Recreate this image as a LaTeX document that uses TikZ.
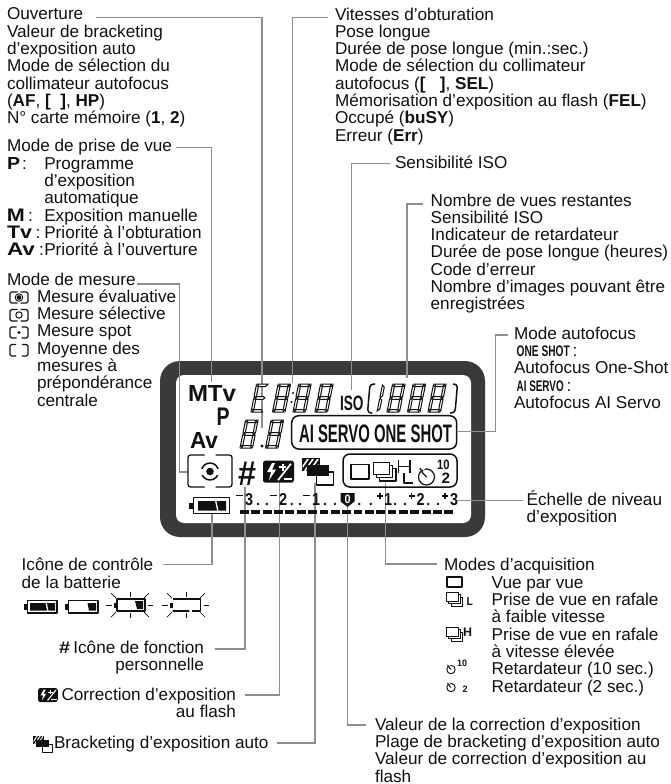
\documentclass[tikz,border=0pt]{standalone}
\usepackage{fontspec}
\usepackage{graphicx}
\setmainfont{Liberation Sans}
\definecolor{lcd}{HTML}{3A3A3A}
\definecolor{ink}{HTML}{111111}
\definecolor{lead}{HTML}{8E8E8E}
\newcommand\lblfont{\fontsize{17.15}{17.33}\selectfont}
\newcommand\fitb[3]{\resizebox{#1pt}{#2pt}{\textbf{#3}}}
\newcommand\firstln{\rule{0pt}{16pt}}
\tikzset{
  lbl/.style={anchor=north west,inner sep=0pt,outer sep=0pt,align=left,text=ink,font=\lblfont,yshift=3pt},
  lblr/.style={anchor=north east,inner sep=0pt,outer sep=0pt,align=right,text=ink,font=\lblfont,yshift=3pt},
  glyph/.style={anchor=south west,inner sep=0pt,outer sep=0pt,text=ink},
  colon/.style={anchor=base west,inner sep=0pt,outer sep=0pt,text=ink,font=\lblfont},
  leader/.style={draw=lead,line width=1.1pt},
  seg/.style={draw=ink,line width=1pt,fill=white},
  ic/.style={draw=ink,line join=round},
  pill/.style={draw=ink,line width=1.5pt,rounded corners=7pt}
}
% seven-segment pieces (local origin at the bottom left)
\newcommand\sega{\path[seg] (1,-28)--(11.5,-28)--(9.5,-25.5)--(3,-25.5)--cycle;}
\newcommand\segd{\path[seg] (1,0)--(11.5,0)--(9.5,-2.5)--(3,-2.5)--cycle;}
\newcommand\segg{\path[seg] (1.5,-14)--(3,-15.3)--(9.5,-15.3)--(11,-14)--(9.5,-12.7)--(3,-12.7)--cycle;}
\newcommand\segf{\path[seg] (0,-27)--(2.3,-24.8)--(2.3,-16)--(.7,-14.6)--(0,-15)--cycle;}
\newcommand\sege{\path[seg] (0,-1)--(2.3,-3.2)--(2.3,-12)--(.7,-13.4)--(0,-13)--cycle;}
\newcommand\segb{\path[seg] (12.5,-27)--(10.2,-24.8)--(10.2,-16)--(11.8,-14.6)--(12.5,-15)--cycle;}
\newcommand\segc{\path[seg] (12.5,-1)--(10.2,-3.2)--(10.2,-12)--(11.8,-13.4)--(12.5,-13)--cycle;}
\newcommand\digfull[2]{\begin{scope}[shift={(#1,#2)},xslant=.2]\sega\segb\segc\segd\sege\segf\segg\end{scope}}
\newcommand\digE[2]{\begin{scope}[shift={(#1,#2)},xslant=.2]\sega\segd\sege\segf\segg\end{scope}}
\newcommand\digone[2]{\begin{scope}[shift={(#1,#2)},xslant=.2]\sege\segf\end{scope}}
% metering frame
\newcommand\meterbox[7]{% x0 y0 x1 y1 gap lw radius
  \draw[ic,line width=#6pt,rounded corners=#7pt] ({(#1+#3)/2-#5},#2)--(#1,#2)--(#1,#4)--({(#1+#3)/2-#5},#4);
  \draw[ic,line width=#6pt,rounded corners=#7pt] ({(#1+#3)/2+#5},#2)--(#3,#2)--(#3,#4)--({(#1+#3)/2+#5},#4);}
% flash compensation icon, 31 x 22
\newcommand\flashicon[3]{\begin{scope}[shift={(#1,#2)},scale=#3]
  \fill[ink,rounded corners=2.5pt] (0,0) rectangle (31,22);
  \fill[white] (9,2.5)--(4,11.5)--(8,11.5)--(6,19.5)--(13,9)--(9,9)--(12,2.5)--cycle;
  \fill[white] (16,5.5) rectangle (23,7.5);\fill[white] (18.5,3) rectangle (20.5,10);
  \draw[white,line width=#3*1.7pt] (28,3)--(15,19.5);
  \draw[white,line width=#3*1.7pt] (21,18.5)--(29,18.5);
\end{scope}}
% bracketing icon, 32 x 27
\newcommand\brkicon[3]{\begin{scope}[shift={(#1,#2)},scale=#3]
  \draw[ic,line width=#3*1.3pt] (26,14)--(32,14)--(32,27)--(15,27)--(15,18);
  \fill[ink] (0,0) rectangle (18,13);
  \begin{scope}\clip (1,1) rectangle (17,12);
    \foreach \q in {-2,3,8,13,18,23}{\draw[white,line width=#3*1.6pt] (\q,13)--(\q+9,0);}
  \end{scope}
  \fill[ink] (5,7) rectangle (27,18);
\end{scope}}
% stacked frames, 23 x 19
\newcommand\stackicon[4]{\begin{scope}[shift={(#1,#2)},scale=#3]
  \draw[ic,line width=#4pt] (0,0) rectangle (16,12);
  \draw[ic,line width=#4pt] (3,12)--(3,15)--(19,15)--(19,3)--(16,3);
  \draw[ic,line width=#4pt] (6,15)--(6,18.5)--(22.5,18.5)--(22.5,6)--(19,6);
\end{scope}}
\newcommand\timericon[4]{% cx cy r lw
  \draw[ic,line width=#4pt] (#1,#2) circle[radius=#3pt];
  \draw[ic,line width=#4pt] (#1,#2)--({#1-.6*#3},{#2-.65*#3});
  \draw[white,line width={#4*1.4pt}] ({#1-.75*#3},{#2-.85*#3})--({#1-.2*#3},{#2-1.1*#3});
  \draw[ic,line width=#4pt] ({#1-.85*#3},{#2-1.1*#3})--({#1-.45*#3},{#2-.7*#3});}
\newcommand\rays[2]{\begin{scope}[shift={(#1,#2)}]
  \foreach \a/\b/\c/\d in {-24/0/-18/0,18/0/23/0,0/-13/0/-8,0/8/0/13,-19/-12/-14/-7,14/-7/19/-12,-19/12/-14/7,14/7/19/12}
    {\draw[ic,line width=.7pt] (\a,\b)--(\c,\d);}
\end{scope}}
\begin{document}
\begin{tikzpicture}[x=1pt,y=-1pt]
\useasboundingbox (0,0) rectangle (671,784);
% LCD frame
\fill[lcd,rounded corners=20pt] (160,361) rectangle (485,537);
\fill[white,rounded corners=8pt] (176,375) rectangle (471,523);

% leader end points
\coordinate (sOuv) at (96,17.5);   \coordinate (eOuv) at (262,428);
\coordinate (sPri) at (176,147.5); \coordinate (ePri) at (211.5,382);
\coordinate (sMes) at (137,284);   \coordinate (kMes) at (179.5,472); \coordinate (eMes) at (188,472);
\coordinate (sVit) at (328,17.3);  \coordinate (eVit) at (292.5,383);
\coordinate (sIso) at (390,163.3); \coordinate (eIso) at (351.5,390);
\coordinate (sNom) at (423,204);   \coordinate (eNom) at (407,378);
\coordinate (sAf)  at (508,335);   \coordinate (kAf)  at (495.5,431.7); \coordinate (eAf) at (458,431.7);
\coordinate (sEch) at (523,500.7); \coordinate (eEch) at (458,500.7);
\coordinate (sBat) at (163,564.3); \coordinate (eBat) at (212,514);
\coordinate (sNum) at (215,649);   \coordinate (eNum) at (245,487);
\coordinate (sFla) at (245,695);   \coordinate (eFla) at (279.5,483);
\coordinate (sBrk) at (277,743);   \coordinate (eBrk) at (315,483);
\coordinate (sVal) at (366,725);   \coordinate (eVal) at (347.5,507);
\coordinate (sAcq) at (437,564);   \coordinate (eAcq) at (385.5,483);
\draw[leader] (sOuv) -| (eOuv);
\draw[leader] (sPri) -| (ePri);
\draw[leader] (sMes) -| (kMes) -- (eMes);
\draw[leader] (sVit) -| (eVit);
\draw[leader] (sIso) -| (eIso);
\draw[leader] (sNom) -| (eNom);
\draw[leader] (sAf) -| (kAf) -- (eAf);
\draw[leader] (sEch) -- (eEch);
\draw[leader] (sBat) -| (eBat);
\draw[leader] (sNum) -| (eNum);
\draw[leader] (sFla) -| (eFla);
\draw[leader] (sBrk) -| (eBrk);
\draw[leader] (sVal) -| (eVal);
\draw[leader] (sAcq) -| (eAcq);

% left column
\node[lbl] (tOuv) at (7,7) {\firstln Ouverture\\Valeur de bracketing\\d’exposition auto\\Mode de sélection du\\collimateur autofocus\\(\textbf{AF}, \textbf{[\ \ ]}, \textbf{HP})\\N° carte mémoire (\textbf{1}, \textbf{2})};
\node[lbl] (tPri) at (7,138.7) {\firstln Mode de prise de vue\\\hspace*{37.3pt}Programme\\\hspace*{37.3pt}d’exposition\\\hspace*{37.3pt}automatique\\\hspace*{37.3pt}Exposition manuelle\\\hspace*{37.3pt}Priorité à l’obturation\\\hspace*{37.3pt}Priorité à l’ouverture};
\node[glyph] (gP) at (7,169) {\fitb{13}{12}{P}};
\node[colon] (cP) at (22,169) {:};
\node[glyph] (gM) at (7,221) {\fitb{18}{12.5}{M}};
\node[colon] (cM) at (28,221) {:};
\node[glyph] (gT) at (7,238.3) {\fitb{25}{12.5}{Tv}};
\node[colon] (cT) at (35.6,238.3) {:};
\node[glyph] (gA) at (7,255.7) {\fitb{28}{12.5}{Av}};
\node[colon] (cA) at (39,255.7) {:};
\node[lbl] (tMes) at (7,272) {\firstln Mode de mesure\\\hspace*{30pt}Mesure évaluative\\\hspace*{30pt}Mesure sélective\\\hspace*{30pt}Mesure spot\\\hspace*{30pt}Moyenne des\\\hspace*{30pt}mesures à\\\hspace*{30pt}prépondérance\\\hspace*{30pt}centrale};
\meterbox{10}{292}{28}{303}{1.5}{1.1}{1.5}
\fill[ink] (19,297.5) circle[radius=2.4pt];
\draw[ic,line width=.9pt] (19,297.5) circle[radius=3.8pt];
\meterbox{10}{309.5}{28}{321}{1.5}{1.1}{1.5}
\draw[ic,line width=1pt] (19,315) circle[radius=3.2pt];
\meterbox{10}{327}{28}{338}{2.5}{1.1}{1.5}
\fill[ink] (19,332.5) circle[radius=1.6pt];
\meterbox{10}{344.5}{28}{356}{3}{1.1}{1.5}

% upper right
\node[lbl] (tVit) at (335,7) {\firstln Vitesses d’obturation\\Pose longue\\Durée de pose longue (min.:sec.)\\Mode de sélection du collimateur\\autofocus (\textbf{[\ \ \ ]}, \textbf{SEL})\\Mémorisation d’exposition au flash (\textbf{FEL})\\Occupé (\textbf{buSY})\\Erreur (\textbf{Err})};
\node[lbl] (tIso) at (395,155.3) {\firstln Sensibilité ISO};
\node[lbl] (tNom) at (430.7,193) {\firstln Nombre de vues restantes\\Sensibilité ISO\\Indicateur de retardateur\\Durée de pose longue (heures)\\Code d’erreur\\Nombre d’images pouvant être\\enregistrées};
\node[lbl] (tAf) at (514,326.3) {\firstln Mode autofocus\\\hspace*{2.7pt}\fitb{53}{10.7}{ONE SHOT}\,:\\Autofocus One-Shot\\\hspace*{2.7pt}\fitb{47}{10.7}{AI SERVO}\,:\\Autofocus AI Servo};
\node[lbl] (tEch) at (526.7,492) {\firstln Échelle de niveau\\d’exposition};

% LCD content
\node[glyph] (lMTv) at (188,401.7) {\fitb{48}{16}{MTv}};
\node[glyph] (lP) at (216.7,425) {\fitb{13}{17.5}{P}};
\node[glyph] (lAv) at (190,448) {\fitb{28}{16}{Av}};
\digE{251}{412}\digfull{272.5}{412}
\digfull{293}{412}\digfull{315}{412}
\fill[ink] (293,393) circle[radius=1.1pt];\fill[ink] (291.5,402) circle[radius=1.1pt];
\node[glyph] (lIso) at (340,411) {\fitb{23.5}{14.5}{ISO}};
\draw[ic,line width=1.5pt,rounded corners=3.5pt] (375,384)--(370,384)--(367.5,413)--(372,413);
\digone{377}{412}
\digfull{387}{412}\digfull{407.5}{412}\digfull{428}{412}
\draw[ic,line width=1.5pt,rounded corners=3.5pt] (453,384)--(457.5,384)--(455,413)--(450,413);
\digfull{240}{448}
\fill[ink] (262,446) circle[radius=1.6pt];
\digfull{265.5}{448}
\draw[pill] (291.7,415.7) rectangle (456.7,449);
\node[glyph] (lAf) at (299,443) {\fitb{153}{17.7}{AI SERVO ONE SHOT}};
\meterbox{188}{455}{232}{487}{5.5}{1.3}{2.5}
\draw[ic,line width=1.5pt] (210,471.5) circle[radius=8.5pt];
\fill[white] (199,468.5) rectangle (221,474.5);
\fill[ink] (210,471.5) circle[radius=3.8pt];
\node[glyph] (lNum) at (238,485.5) {\fitb{18}{23.5}{\#}};
\flashicon{263}{460.7}{1}
\brkicon{301.7}{458}{1}
\draw[pill] (343,454) rectangle (457,487);
\draw[ic,line width=1.5pt] (351,464.5) rectangle (369,479);
\stackicon{373.5}{462.5}{1}{1.2}
\draw[ic,line width=1.5pt] (398.5,460)--(398.5,473) (410,460)--(410,473) (398.5,466.5)--(410,466.5);
\draw[ic,line width=1.5pt] (404,473)--(404,483)--(412.5,483);
\timericon{426.5}{477}{8}{1.2}
\node[glyph] (l10) at (437,469.5) {\fitb{12.5}{9.5}{10}};
\node[glyph] (l2) at (441.7,483) {\fitb{8.5}{10.5}{2}};
% exposure scale
\foreach \n/\x/\t in {a/249/3,b/283/2,c/316/1,d/388/1,e/420.5/2,f/454/3}
  {\node[anchor=south,inner sep=0pt,text=ink] (s\n) at (\x,505.5) {\fitb{8}{12}{\t}};}
\foreach \x in {236,270,303}{\fill[ink] (\x,494.5) rectangle ++(7,1.7);}
\foreach \x in {380,411.7,445}{\fill[ink] (\x-3,495.2) rectangle ++(6,1.4);\fill[ink] (\x-.7,493) rectangle ++(1.4,6);}
\foreach \x in {258,266.7,291.7,300,325,335,359.3,370.7,395,405,428.3,438}{\fill[ink] (\x,504) circle[radius=1.4pt];}
\fill[ink] (340.5,493)--(354.5,493)--(354.5,501.5)--(347.5,507)--(340.5,501.5)--cycle;
\node[anchor=south,inner sep=0pt,text=white] (s0) at (347.5,503.5) {\fitb{6}{8.5}{0}};
\foreach \i in {0,...,18}{\fill[ink] ({240+\i*11.36},510) rectangle ++(8.8,4.4);}
% battery on the LCD
\draw[ic,line width=1.3pt] (193.5,497.5) rectangle (229.5,513.5);
\fill[ink] (188.5,502.5) rectangle (193.5,509);
\fill[ink] (198,501)--(215,501)--(217,510.5)--(198,510.5)--cycle;
\fill[ink] (216.5,501)--(226,501)--(226,510.5)--(218.5,510.5)--cycle;

% battery row
\draw[ic,line width=1.2pt] (27.5,600.5) rectangle (57,613);
\fill[ink] (24,604) rectangle (27.5,610);
\fill[ink] (30,603)--(45.5,603)--(47,610.5)--(30,610.5)--cycle;
\fill[ink] (47,603)--(55,603)--(55,610.5)--(48.5,610.5)--cycle;
\draw[ic,line width=1.2pt] (68.5,600.5) rectangle (98,613);
\fill[ink] (64.5,604) rectangle (68.5,610);
\fill[ink] (87.5,603)--(96,603)--(96,610.5)--(89,610.5)--cycle;
\draw[ic,line width=1.1pt] (117,599)--(145,599)--(145,611)--(117,611)--cycle;
\fill[ink] (113.5,602.5) rectangle (117,608);
\fill[ink] (135,601)--(143,601)--(143,609)--(137,609)--cycle;
\rays{130}{605}
\draw[ic,line width=1.1pt] (173,599)--(200.5,599)--(200.5,611)--(192,611) (189,611)--(173,611)--cycle;
\fill[ink] (169.5,602.5) rectangle (173,608);
\rays{186}{605}

% lower left labels
\node[lbl] (tBat) at (21.7,557.7) {\firstln Icône de contrôle\\de la batterie};
\node[lblr] (tNum) at (204,640) {\firstln Icône de fonction\\personnelle};
\node[glyph] (gNum) at (59,653) {\fitb{11}{11.5}{\#}};
\node[lblr] (tFla) at (236,687) {\firstln Correction d’exposition\\au flash};
\flashicon{38}{688}{.64}
\node[lbl] (tBrk) at (54,735) {\firstln Bracketing d’exposition auto};
\brkicon{33}{736}{.6}

% lower right labels
\node[lbl] (tAcq) at (444,557.7) {\firstln Modes d’acquisition\\\hspace*{47.7pt}Vue par vue\\\hspace*{47.7pt}Prise de vue en rafale\\\hspace*{47.7pt}à faible vitesse\\\hspace*{47.7pt}Prise de vue en rafale\\\hspace*{47.7pt}à vitesse élevée\\\hspace*{47.7pt}Retardateur (10 sec.)\\\hspace*{47.7pt}Retardateur (2 sec.)};
\draw[ic,line width=1.8pt] (447.3,576.7) rectangle (461.7,586.7);
\stackicon{446.7}{592.7}{.72}{1}
\node[glyph] (gL) at (466.7,605.3) {\fitb{6.3}{8}{L}};
\stackicon{446.7}{627.7}{.72}{1}
\node[glyph] (gH) at (463,636.7) {\fitb{9}{8.5}{H}};
\timericon{451}{669.5}{4.2}{.9}
\node[glyph] (g10) at (457,666.5) {\fitb{10}{6.5}{10}};
\timericon{451}{687.5}{4.2}{.9}
\node[glyph] (g2) at (462.7,692) {\fitb{5}{6.5}{2}};
\node[lbl] (tVal) at (375,717) {\firstln Valeur de la correction d’exposition\\Plage de bracketing d’exposition auto\\Valeur de correction d’exposition au\\flash};
\end{tikzpicture}
\end{document}
